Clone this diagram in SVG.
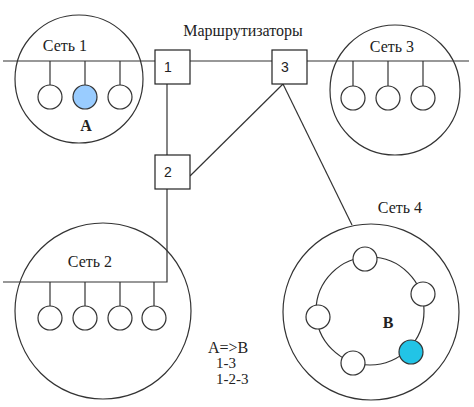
<svg xmlns="http://www.w3.org/2000/svg" width="474" height="407" viewBox="0 0 474 407">
<style>
.ln{stroke:#333;stroke-width:1.2;fill:none}
.net{stroke:#333;stroke-width:1.2;fill:none}
.host{stroke:#333;stroke-width:1.2;fill:#fff}
.box{stroke:#222;stroke-width:1.2;fill:#fff}
.lbl{font-family:"Liberation Serif","Times New Roman",serif;font-size:16px;fill:#222}
.num{font-family:"Liberation Sans",Arial,sans-serif;font-size:14px;fill:#222;text-anchor:middle}
.bold{font-family:"Liberation Serif","Times New Roman",serif;font-size:16px;font-weight:bold;fill:#222;text-anchor:middle}
</style>
<rect width="474" height="407" fill="#fff"/>
<g id="net1">
<circle class="net" cx="79" cy="79" r="64"/>
<text class="lbl" x="65" y="51" text-anchor="middle">Сеть 1</text>
<line class="ln" x1="50" y1="61" x2="50" y2="85"/>
<line class="ln" x1="85" y1="61" x2="85" y2="85"/>
<line class="ln" x1="120" y1="61" x2="120" y2="85"/>
<circle class="host" cx="50" cy="97" r="12"/>
<circle class="host" cx="85" cy="97" r="12" style="fill:#99CCFF"/>
<circle class="host" cx="120" cy="97" r="12"/>
<text class="bold" x="86" y="131">A</text>
</g>
<g id="net2">
<circle class="net" cx="103" cy="311" r="88"/>
<text class="lbl" x="90" y="267" text-anchor="middle">Сеть 2</text>
<line class="ln" x1="50" y1="282" x2="50" y2="306"/>
<line class="ln" x1="85" y1="282" x2="85" y2="306"/>
<line class="ln" x1="120" y1="282" x2="120" y2="306"/>
<line class="ln" x1="154" y1="282" x2="154" y2="306"/>
<circle class="host" cx="50" cy="318" r="12"/>
<circle class="host" cx="85" cy="318" r="12"/>
<circle class="host" cx="120" cy="318" r="12"/>
<circle class="host" cx="154" cy="318" r="12"/>
</g>
<g id="net3">
<circle class="net" cx="395" cy="90" r="65"/>
<text class="lbl" x="392" y="52" text-anchor="middle">Сеть 3</text>
<line class="ln" x1="353" y1="61" x2="353" y2="86"/>
<line class="ln" x1="388" y1="61" x2="388" y2="86"/>
<line class="ln" x1="423" y1="61" x2="423" y2="86"/>
<circle class="host" cx="353" cy="98" r="12"/>
<circle class="host" cx="388" cy="98" r="12"/>
<circle class="host" cx="423" cy="98" r="12"/>
</g>
<g id="net4">
<circle class="net" cx="371" cy="312" r="88"/>
<text class="lbl" x="400" y="213" text-anchor="middle">Сеть 4</text>
<circle class="net" cx="370" cy="311" r="54"/>
<circle class="host" cx="365" cy="259" r="12"/>
<circle class="host" cx="423" cy="294" r="12"/>
<circle class="host" cx="318" cy="317" r="12"/>
<circle class="host" cx="353" cy="363" r="12"/>
<circle class="host" cx="411" cy="352" r="12" style="fill:#22C4E6"/>
<text class="bold" x="388" y="328">B</text>
</g>
<g id="connectors">
<line class="ln" x1="3" y1="61" x2="155" y2="61"/>
<line class="ln" x1="190" y1="61" x2="272" y2="61"/>
<line class="ln" x1="307" y1="61" x2="469" y2="61"/>
<line class="ln" x1="167" y1="84" x2="167" y2="155"/>
<polyline class="ln" points="167,189 167,282 3,282"/>
<line class="ln" x1="190" y1="176" x2="283" y2="84"/>
<line class="ln" x1="283" y1="84" x2="352" y2="225"/>
</g>
<g id="router1">
<rect class="box" x="155" y="50" width="35" height="34"/>
<text class="num" x="168" y="72">1</text>
</g>
<g id="router2">
<rect class="box" x="155" y="155" width="35" height="34"/>
<text class="num" x="168" y="177">2</text>
</g>
<g id="router3">
<rect class="box" x="272" y="50" width="35" height="34"/>
<text class="num" x="285" y="72">3</text>
</g>
<g id="titles">
<text class="lbl" x="243" y="36" text-anchor="middle">Маршрутизаторы</text>
<text class="lbl" x="208" y="353">A=&gt;B</text>
<text class="lbl" x="216" y="368" style="font-size:15px">1-3</text>
<text class="lbl" x="216" y="384" style="font-size:15px">1-2-3</text>
</g>
</svg>
